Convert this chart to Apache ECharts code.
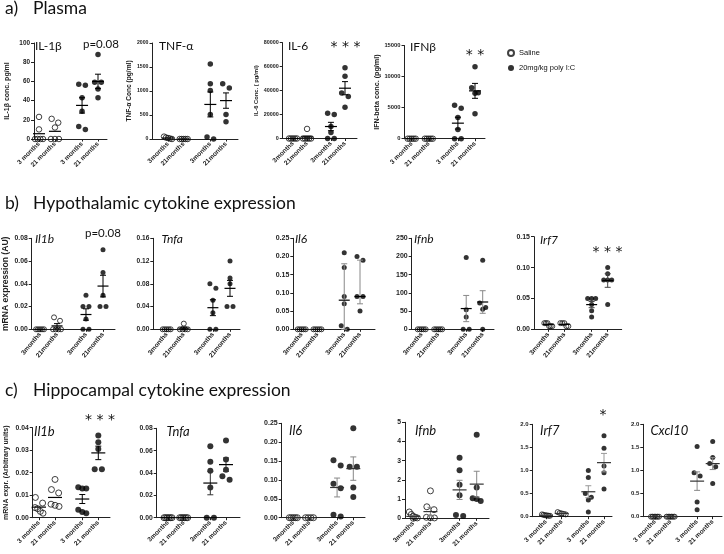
<!DOCTYPE html>
<html><head><meta charset="utf-8">
<script src="https://cdn.jsdelivr.net/npm/echarts@6/dist/echarts.min.js"></script>
<style>html,body{margin:0;padding:0;background:#fff}#c{width:724px;height:554px}</style>
</head><body><div id="c"></div>
<script>
// ---------- group positions on x and tick labels ----------
const groupPos = [1, 2, 3.7, 4.7];
const lblSpaced = ['3 months', '21 months', '3 months', '21 months'];
const lblTight = ['3months', '21months', '3months', '21months'];
const lblMixed = ['3months', '21 months', '3months', '21 months'];

// ---------- a) Plasma ----------
const plasmaIL1b = [[23, 10, 0, 0, 0, 0], [21, 17, 12, 0, 0, 0], [57, 56, 43, 29, 13, 10], [88, 59, 59, 52, 43]];
const plasmaIL1bMean = [5.5, 8, 35, 60];
const plasmaIL1bErr = [0, 0, 8, 7.5];
const plasmaTNF = [[50, 30, 20, 10, 0], [0, 0, 0, 0, 0], [1560, 1150, 1010, 510, 40, 0], [1150, 1060, 510, 360]];
const plasmaTNFMean = [20, 0, 720, 800];
const plasmaTNFErr = [0, 0, 260, 160];
const plasmaIL6 = [[0, 0, 0, 0, 0], [8000, 0, 0, 0, 0, 0], [21000, 20000, 10000, 5000, 0, 0], [59000, 52000, 38000, 35000, 26000]];
const plasmaIL6Mean = [0, 1300, 10000, 42000];
const plasmaIL6Err = [0, 0, 3500, 5500];
const plasmaIFNb = [[0, 0, 0, 0, 0], [0, 0, 0, 0, 0], [5400, 4900, 3400, 1500, 0, 0], [11600, 8200, 7400, 7300, 4000]];
const plasmaIFNbMean = [0, 0, 2500, 7700];
const plasmaIFNbErr = [0, 0, 950, 1200];

// ---------- b) Hypothalamic ----------
const hypIl1b = [[0, 0, 0, 0, 0], [0.0105, 0.0075, 0, 0, 0, 0], [0.03, 0.02, 0.02, 0.009, 0, 0], [0.07, 0.05, 0.03, 0.02, 0.02]];
const hypIl1bMean = [0, 0.003, 0.013, 0.038];
const hypIl1bErr = [0, 0.002, 0.005, 0.0095];
const hypTnfa = [[0, 0, 0, 0, 0], [0.01, 0, 0, 0, 0], [0.08, 0.072, 0.051, 0.029, 0, 0], [0.12, 0.09, 0.08, 0.04, 0.04]];
const hypTnfaMean = [0, 0.002, 0.038, 0.072];
const hypTnfaErr = [0, 0.002, 0.014, 0.014];
const hypIl6 = [[0, 0, 0, 0, 0], [0, 0, 0, 0, 0], [0.21, 0.17, 0.09, 0.07, 0.01, 0], [0.2, 0.19, 0.09, 0.09, 0.05]];
const hypIl6Mean = [0, 0, 0.08, 0.09];
const hypIl6Err = [0, 0, [0.08, 0.1], [0.02, 0.1]];
const hypIfnb = [[0, 0, 0, 0, 0], [0, 0, 0, 0, 0], [197, 54, 34, 0, 0], [190, 72, 60, 55, 0]];
const hypIfnbMean = [0, 0, 57, 75];
const hypIfnbErr = [0, 0, 36, 31];
const hypIrf7 = [[0.01, 0.01, 0.01, 0.005, 0.005, 0.005], [0.01, 0.01, 0.01, 0.005, 0.005], [0.05, 0.05, 0.05, 0.04, 0.03, 0.02], [0.1, 0.09, 0.08, 0.08, 0.08, 0.04]];
const hypIrf7Mean = [0.008, 0.008, 0.04, 0.079];
const hypIrf7Err = [0, 0, 0.005, 0.011];

// ---------- c) Hippocampal ----------
const hipIl1b = [[0.009, 0.0065, 0.0045, 0.004, 0.0028, 0.002], [0.017, 0.0125, 0.011, 0.006, 0.0055, 0.005], [0.0135, 0.013, 0.013, 0.0035, 0.0025, 0.002], [0.0365, 0.0335, 0.0305, 0.0215, 0.0215]];
const hipIl1bMean = [0.0047, 0.009, 0.0083, 0.0288];
const hipIl1bErr = [0, 0, 0.002, 0.003];
const hipTnfa = [[0, 0, 0, 0, 0, 0], [0, 0, 0, 0, 0, 0], [0.064, 0.05, 0.042, 0.027, 0, 0], [0.069, 0.052, 0.043, 0.037, 0.034]];
const hipTnfaMean = [0, 0, 0.031, 0.0475];
const hipTnfaErr = [0, 0, 0.0105, 0.006];
const hipIl6 = [[0, 0, 0, 0, 0], [0, 0, 0, 0], [0.152, 0.138, 0.09, 0.078, 0.008, 0.003], [0.237, 0.135, 0.135, 0.08, 0.055]];
const hipIl6Mean = [0, 0, 0.08, 0.13];
const hipIl6Err = [0, 0, 0.025, 0.031];
const hipIfnb = [[0.33, 0.2, 0.1, 0.05, 0.02, 0], [1.43, 0.6, 0.45, 0.05, 0.03, 0.02], [3.15, 2.5, 1.75, 1.2, 0.17, 0.12], [4.35, 1.6, 1.05, 1.0, 0.9]];
const hipIfnbMean = [0.1, 0.35, 1.48, 1.78];
const hipIfnbErr = [0.05, 0.22, 0.5, 0.67];
const hipIrf7 = [[0.05, 0.04, 0.03, 0.03, 0.02, 0.02], [0.1, 0.08, 0.07, 0.06, 0.05], [1.0, 0.85, 0.5, 0.42, 0.36, 0.1], [1.75, 1.48, 1.1, 0.95, 0.6]];
const hipIrf7Mean = [0.03, 0.07, 0.54, 1.17];
const hipIrf7Err = [0.005, 0.01, 0.13, 0.2];
const hipCxcl10 = [[0, 0, 0, 0, 0, 0], [0, 0, 0, 0, 0, 0], [1.52, 0.95, 0.88, 0.32, 0.15], [1.63, 1.28, 1.15, 1.08, 0.72]];
const hipCxcl10Mean = [0, 0, 0.77, 1.15];
const hipCxcl10Err = [0, 0, 0.2, 0.13];

// ---------- layout (styles / positions) ----------
const FONT = 'Liberation Sans';
const P = [
  {d: plasmaIL1b, m: plasmaIL1bMean, e: plasmaIL1bErr, L: 34, R: 107, T: 43, B: 139, g1: 39, g4: 98, max: 100, step: 20, dec: 0, tf: 6.4, xl: lblSpaced, rot: 45, yName: 'IL-1β conc. pg/ml', yNameX: 7, yns: 7, sym: 5.5, mw: 6, ec: '#000', mc: '#000'},
  {d: plasmaTNF, m: plasmaTNFMean, e: plasmaTNFErr, L: 152.5, R: 238, T: 43, B: 139, g1: 168, g4: 226, max: 2000, step: 500, dec: 0, tf: 5.2, xl: lblTight, rot: 45, yName: 'TNF-α Conc (pg/ml)', yNameX: 140, yns: 6.6, sym: 5.5, mw: 6, ec: '#000', mc: '#000'},
  {d: plasmaIL6, m: plasmaIL6Mean, e: plasmaIL6Err, L: 282.7, R: 357, T: 42.7, B: 138.5, g1: 293, g4: 345, max: 80000, step: 20000, dec: 0, tf: 5.4, xl: lblTight, rot: 45, yName: 'IL-6 Conc. ( pg/ml)', yNameX: 260, yns: 5.8, sym: 5.5, mw: 6, ec: '#000', mc: '#000'},
  {d: plasmaIFNb, m: plasmaIFNbMean, e: plasmaIFNbErr, L: 404.5, R: 485, T: 45.5, B: 138.7, g1: 411.7, g4: 475, max: 15000, step: 5000, dec: 0, tf: 5.8, xl: lblSpaced, rot: 45, yName: 'IFN-beta conc. (pg/ml)', yNameX: 377.5, yns: 7.2, sym: 5.5, mw: 6, ec: '#000', mc: '#000'},
  {d: hypIl1b, m: hypIl1bMean, e: hypIl1bErr, L: 31.7, R: 115, T: 238.3, B: 329.3, g1: 40, g4: 103, max: 0.08, step: 0.02, dec: 2, tf: 6.8, xl: lblTight, rot: 50, yName: 'mRNA expression (AU)', yNameX: 7.5, yns: 8.6, sym: 5, mw: 5.5, ec: '#000', mc: '#000'},
  {d: hypTnfa, m: hypTnfaMean, e: hypTnfaErr, L: 153.3, R: 240, T: 238.3, B: 329.3, g1: 166.7, g4: 230, max: 0.16, step: 0.04, dec: 2, tf: 6.6, xl: lblTight, rot: 50, sym: 5, mw: 5.5, ec: '#000', mc: '#000'},
  {d: hypIl6, m: hypIl6Mean, e: hypIl6Err, L: 293.3, R: 375, T: 238.3, B: 329.3, g1: 301.7, g4: 360, max: 0.25, step: 0.05, dec: 2, tf: 7, xl: lblTight, rot: 50, sym: 5, mw: 5.5, ec: '#888', mc: '#000'},
  {d: hypIfnb, m: hypIfnbMean, e: hypIfnbErr, L: 411.7, R: 494, T: 238.3, B: 329.3, g1: 421.7, g4: 482.7, max: 250, step: 50, dec: 0, tf: 7, xl: lblTight, rot: 50, sym: 5, mw: 5.5, ec: '#888', mc: '#000'},
  {d: hypIrf7, m: hypIrf7Mean, e: hypIrf7Err, L: 534, R: 621.7, T: 236.7, B: 329.3, g1: 548.3, g4: 607.7, max: 0.15, step: 0.05, dec: 2, tf: 7, xl: lblTight, rot: 50, sym: 5, mw: 5.5, ec: '#444', mc: '#000'},
  {d: hipIl1b, m: hipIl1bMean, e: hipIl1bErr, L: 32.7, R: 110, T: 427.7, B: 517.7, g1: 39, g4: 98.3, max: 0.04, step: 0.01, dec: 2, tf: 6.8, xl: lblSpaced, rot: 45, yName: 'mRNA expr. (Arbitrary units)', yNameX: 6.3, yns: 7, sym: 6, mw: 7, ec: '#000', mc: '#000'},
  {d: hipTnfa, m: hipTnfaMean, e: hipTnfaErr, L: 156.7, R: 240, T: 428.3, B: 517.7, g1: 168, g4: 226, max: 0.08, step: 0.02, dec: 2, tf: 6.8, xl: lblMixed, rot: 45, sym: 6, mw: 7, ec: '#333', mc: '#000'},
  {d: hipIl6, m: hipIl6Mean, e: hipIl6Err, L: 281.7, R: 365, T: 423.3, B: 517.7, g1: 293.3, g4: 353.3, max: 0.25, step: 0.05, dec: 2, tf: 7, xl: lblMixed, rot: 45, sym: 6, mw: 7, ec: '#888', mc: '#333'},
  {d: hipIfnb, m: hipIfnbMean, e: hipIfnbErr, L: 405, R: 489, T: 422.3, B: 518.3, g1: 413.3, g4: 476.7, max: 5, step: 1, dec: 0, tf: 6.8, xl: lblMixed, rot: 45, sym: 6, mw: 7, ec: '#888', mc: '#333'},
  {d: hipIrf7, m: hipIrf7Mean, e: hipIrf7Err, L: 532.7, R: 612, T: 424.3, B: 516.7, g1: 546, g4: 604, max: 2, step: 0.5, dec: 1, tf: 6, xl: lblSpaced, rot: 45, sym: 5, mw: 7, ec: '#999', mc: '#333'},
  {d: hipCxcl10, m: hipCxcl10Mean, e: hipCxcl10Err, L: 643.3, R: 722, T: 424.3, B: 516.7, g1: 655, g4: 712.7, max: 2, step: 0.5, dec: 1, tf: 6, xl: lblSpaced, rot: 45, sym: 5, mw: 7, ec: '#888', mc: '#333'}
];

// Text annotations: headings, panel labels, significance
const texts = [
  {t: 'a)', x: 5, y: 8, s: 17.5}, {t: 'Plasma', x: 33, y: 8, s: 17.5},
  {t: 'b)', x: 5, y: 203, s: 17.5}, {t: 'Hypothalamic cytokine expression', x: 33, y: 203, s: 17.5},
  {t: 'c)', x: 5, y: 390, s: 17.5}, {t: 'Hippocampal cytokine expression', x: 33, y: 390, s: 17.5},
  {t: 'IL-1β', x: 35, y: 46, s: 12}, {t: 'p=0.08', x: 83, y: 44, s: 11.5},
  {t: 'TNF-α', x: 159, y: 46, s: 12}, {t: 'IL-6', x: 288, y: 46, s: 12}, {t: 'IFNβ', x: 410, y: 47, s: 12},
  {t: 'Il1b', x: 35, y: 239.5, s: 12, i: 1}, {t: 'p=0.08', x: 85, y: 233, s: 11.5},
  {t: 'Tnfa', x: 161.5, y: 239.5, s: 12, i: 1}, {t: 'Il6', x: 295, y: 239, s: 12, i: 1},
  {t: 'Ifnb', x: 414, y: 239, s: 12, i: 1}, {t: 'Irf7', x: 540, y: 240, s: 12, i: 1},
  {t: 'Il1b', x: 34, y: 431.5, s: 13, i: 1}, {t: 'Tnfa', x: 166.5, y: 432, s: 13, i: 1},
  {t: 'Il6', x: 289, y: 431, s: 13, i: 1}, {t: 'Ifnb', x: 415, y: 431, s: 13, i: 1},
  {t: 'Irf7', x: 540, y: 430.5, s: 13, i: 1}, {t: 'Cxcl10', x: 650.5, y: 431, s: 13, i: 1}
];
const stars = [
  {t: '* * *', x: 345.5, y: 47}, {t: '* *', x: 475, y: 55},
  {t: '* * *', x: 607.5, y: 252}, {t: '* * *', x: 100, y: 420}, {t: '*', x: 603, y: 415}
];

// ---------- helpers ----------
function jitter(vals, pxPerUnitY, unitPerPxX, sym) {
  const idx = vals.map((v, i) => i).sort((a, b) => vals[b] - vals[a]);
  const offs = new Array(vals.length).fill(0);
  let i = 0;
  while (i < idx.length) {
    let j = i + 1;
    while (j < idx.length && (vals[idx[i]] - vals[idx[j]]) * pxPerUnitY < sym) j++;
    const n = j - i;
    const sp = n > 1 ? Math.min(sym * 1.2, 8 / (n - 1)) : 0;
    for (let k = 0; k < n; k++) offs[idx[i + k]] = (k - (n - 1) / 2) * sp * unitPerPxX;
    i = j;
  }
  return offs;
}
function nearestIdx(v) {
  let b = 0;
  for (let i = 1; i < groupPos.length; i++) if (Math.abs(groupPos[i] - v) < Math.abs(groupPos[b] - v)) b = i;
  return b;
}

const grids = [], xAxes = [], yAxes = [], series = [];
P.forEach((p, i) => {
  const u = (p.g4 - p.g1) / (groupPos[3] - groupPos[0]);
  const xmin = groupPos[0] - (p.g1 - p.L) / u;
  const xmax = groupPos[3] + (p.R - p.g4) / u;
  grids.push({left: p.L, top: p.T, width: p.R - p.L, height: p.B - p.T, containLabel: false});
  xAxes.push({
    type: 'value', gridIndex: i, min: xmin, max: xmax, splitLine: {show: false},
    axisLine: {onZero: false, lineStyle: {color: '#222', width: 1}},
    axisTick: {show: true, customValues: groupPos, length: 2.5, lineStyle: {color: '#222'}},
    axisLabel: {customValues: groupPos, rotate: p.rot, margin: 4, formatter: v => p.xl[nearestIdx(v)],
      fontSize: 6.5, fontWeight: 'bold', fontFamily: FONT, color: '#222'}
  });
  const ya = {
    type: 'value', gridIndex: i, min: 0, max: p.max, interval: p.step,
    splitLine: {show: false},
    axisLine: {show: true, onZero: false, lineStyle: {color: '#222', width: 1}},
    axisTick: {show: true, length: 3, lineStyle: {color: '#222'}},
    axisLabel: {margin: 4, fontSize: p.tf, fontWeight: 'bold', fontFamily: FONT, color: '#222',
      formatter: v => Number(v).toFixed(p.dec)}
  };
  if (p.yName) {
    Object.assign(ya, {name: p.yName, nameLocation: 'middle', nameRotate: 90,
      nameGap: p.L - p.yNameX - p.yns / 2,
      nameTextStyle: {fontSize: p.yns, fontWeight: 'bold', fontFamily: FONT, color: '#222'}});
  }
  yAxes.push(ya);
  const pxY = (p.B - p.T) / p.max, uX = (xmax - xmin) / (p.R - p.L);
  const sal = [], pic = [];
  p.d.forEach((vals, g) => {
    const offs = jitter(vals, pxY, uX, p.sym);
    vals.forEach((v, k) => (g < 2 ? sal : pic).push([groupPos[g] + offs[k], v]));
  });
  series.push({type: 'scatter', name: 'Saline', xAxisIndex: i, yAxisIndex: i, data: sal, symbol: 'circle',
    symbolSize: p.sym, itemStyle: {color: 'rgba(255,255,255,0)', borderColor: '#111', borderWidth: 1}, silent: true, z: 3});
  series.push({type: 'scatter', name: '20mg/kg poly I:C', xAxisIndex: i, yAxisIndex: i, data: pic, symbol: 'circle',
    symbolSize: p.sym, itemStyle: {color: '#000', borderColor: '#000', borderWidth: 0}, silent: true, z: 3});
  const bars = p.m.map((m, g) => {
    const e = p.e[g];
    const dn = Array.isArray(e) ? e[0] : e, up = Array.isArray(e) ? e[1] : e;
    return [groupPos[g], m, Math.max(0, m - dn), m + up];
  });
  series.push({
    type: 'custom', xAxisIndex: i, yAxisIndex: i, data: bars, silent: true, z: 5,
    encode: {x: 0, y: 1},
    renderItem: (params, api) => {
      const x = api.value(0), m = api.value(1), lo = api.value(2), hi = api.value(3);
      const pm = api.coord([x, m]), pl = api.coord([x, lo]), ph = api.coord([x, hi]);
      const children = [];
      if (hi > lo) {
        const es = {stroke: p.ec, lineWidth: 1};
        children.push({type: 'line', shape: {x1: pm[0], y1: pl[1], x2: pm[0], y2: ph[1]}, style: es});
        children.push({type: 'line', shape: {x1: pm[0] - 3, y1: pl[1], x2: pm[0] + 3, y2: pl[1]}, style: es});
        children.push({type: 'line', shape: {x1: pm[0] - 3, y1: ph[1], x2: pm[0] + 3, y2: ph[1]}, style: es});
      }
      children.push({type: 'line', shape: {x1: pm[0] - p.mw, y1: pm[1], x2: pm[0] + p.mw, y2: pm[1]},
        style: {stroke: p.mc, lineWidth: 1.2}});
      return {type: 'group', children};
    }
  });
});

const graphic = texts.map(o => ({
  type: 'text', x: o.x, y: o.y, silent: true,
  style: {text: o.t, fill: '#111', font: (o.i ? 'italic ' : '') + o.s + 'px Lato', verticalAlign: 'middle', align: 'left'}
})).concat(stars.map(o => ({
  type: 'text', x: o.x, y: o.y, silent: true,
  style: {text: o.t, fill: '#111', font: '14px "DejaVu Sans"', verticalAlign: 'middle', align: 'center'}
})));

const chart = echarts.init(document.getElementById('c'));
chart.setOption({
  animation: false,
  backgroundColor: '#fff',
  grid: grids, xAxis: xAxes, yAxis: yAxes, series,
  legend: {data: ['Saline', '20mg/kg poly I:C'], orient: 'vertical', left: 502, top: 44,
    itemWidth: 6, itemHeight: 6, itemGap: 7, icon: 'circle',
    textStyle: {fontSize: 7.5, fontFamily: FONT, color: '#111'}},
  graphic
});
</script>
</body></html>
